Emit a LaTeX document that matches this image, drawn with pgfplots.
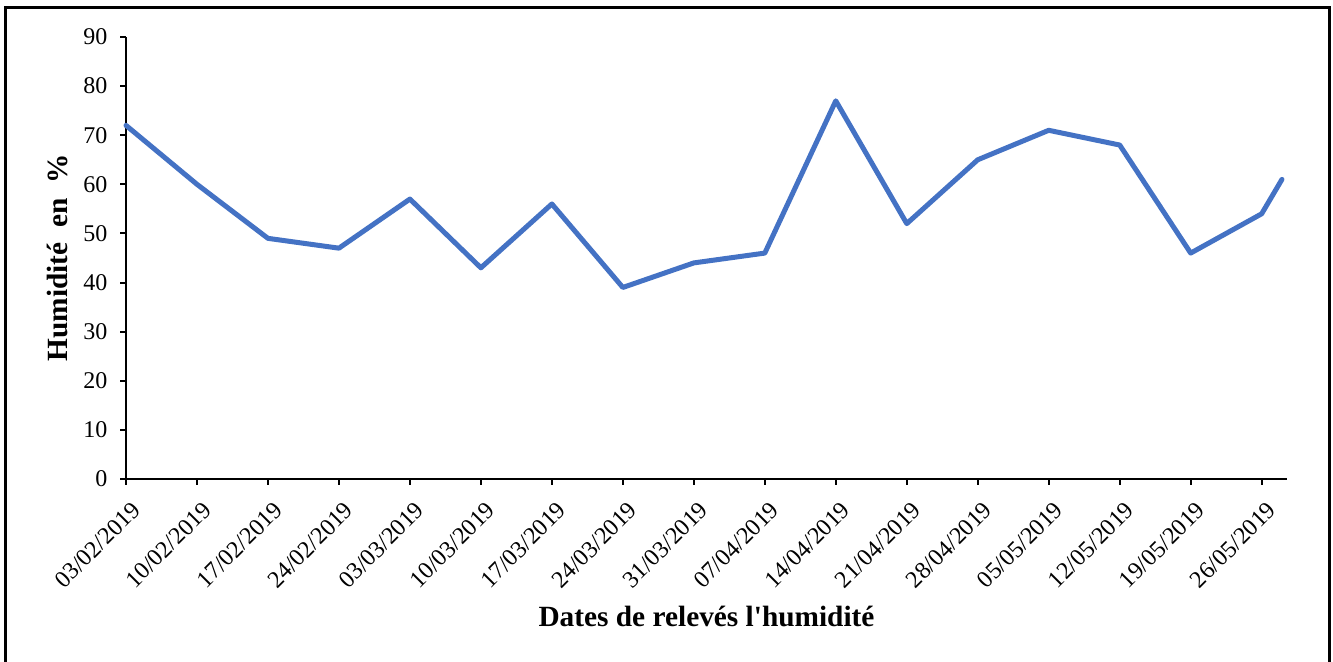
\documentclass[border=0pt]{standalone}
\usepackage{fontspec}
\setmainfont{Liberation Serif}
\usepackage{pgfplots}
\pgfplotsset{compat=1.18}
\definecolor{exblue}{HTML}{4472C4}
\begin{document}
\begin{tikzpicture}
\begin{axis}[
  name=ax,
  scale only axis,
  width=870.75pt, height=331.5pt,
  xmin=0, xmax=114.5,
  ymin=0, ymax=90,
  axis lines*=left,
  axis line style={line width=1.5pt, black},
  every tick/.style={line width=1.5pt, black},
  tick align=outside,
  major tick length=4.5pt,
  xtick={0,7,...,112},
  xticklabels={03/02/2019,10/02/2019,17/02/2019,24/02/2019,03/03/2019,10/03/2019,17/03/2019,24/03/2019,31/03/2019,07/04/2019,14/04/2019,21/04/2019,28/04/2019,05/05/2019,12/05/2019,19/05/2019,26/05/2019},
  ytick={0,10,...,90},
  /pgf/number format/assume math mode=true,
  tick label style={font=\fontsize{18}{20}\selectfont},
  xticklabel style={rotate=45, anchor=north east, xshift=-2.5pt, yshift=-7pt},
  yticklabel style={xshift=-6pt},
  xlabel={\textbf{Dates de relevés l\textquotesingle humidité}},
  ylabel={\textbf{Humidité\ \ en\ \ \%}},
  label style={font=\fontsize{22}{24}\selectfont},
  xlabel style={at={(axis description cs:0.5,-0.312)}, anchor=center},
  ylabel style={at={(axis description cs:-0.0586,0.5)}, anchor=center},
  clip=false,
]
\addplot[exblue, line width=3.75pt, line join=round, line cap=round] coordinates {
(0,72) (7,60) (14,49) (21,47) (28,57) (35,43) (42,56) (49,39) (56,44) (63,46)
(70,77) (77,52) (84,65) (91,71) (98,68) (105,46) (112,54) (114,61)
};
\end{axis}
\draw[line width=2.25pt] ([shift={(-90pt,-145pt)}]ax.south west) rectangle ([shift={(31.5pt,21.75pt)}]ax.north east);
\pgfresetboundingbox
\useasboundingbox ([shift={(-94.5pt,-137.25pt)}]ax.south west) rectangle ([shift={(34.5pt,27.75pt)}]ax.north east);
\end{tikzpicture}
\end{document}
